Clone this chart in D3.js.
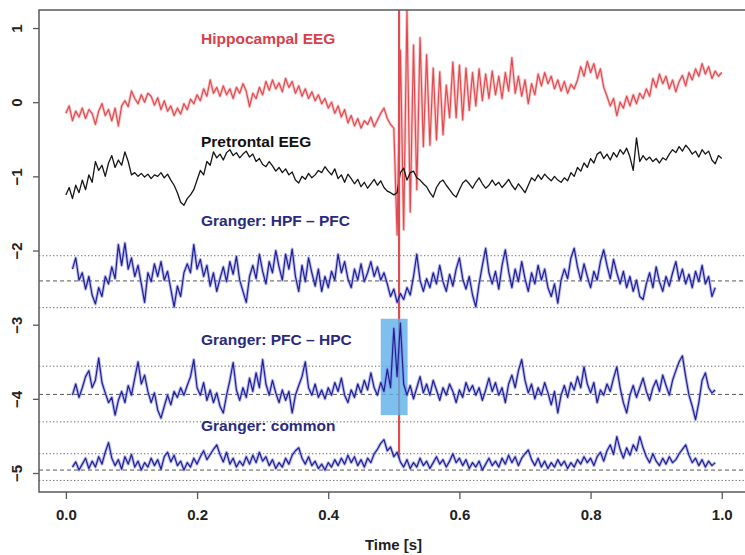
<!DOCTYPE html>
<html>
<head>
<meta charset="utf-8">
<script src="https://cdn.jsdelivr.net/npm/d3@7"></script>
<style>
  body { margin: 0; background: #ffffff; }
  svg { display: block; }
</style>
</head>
<body>
<svg id="chart" width="745" height="555"></svg>
<script>
// ---- data -------------------------------------------------------------
const yTicks = [1, 0, -1, -2, -3, -4, -5];
const xTicks = [0, 0.2, 0.4, 0.6, 0.8, 1.0];
const xTitle = "Time [s]";

// EEG traces sampled every 5 ms from t = 0 s
const eegStart = 0, eegStep = 0.005;
// Granger traces sampled every 5 ms from t = 0.01 s
const grangerStart = 0.01, grangerStep = 0.005;

const hippocampal = [
  -0.15,-0.05,-0.25,-0.12,-0.20,-0.08,-0.22,-0.10,-0.15,-0.30,
  -0.12,-0.02,-0.18,-0.10,-0.25,-0.08,-0.32,-0.05,0.02,-0.06,
  0.15,0.05,-0.02,0.10,0.00,0.12,0.08,-0.04,0.06,-0.10,
  0.02,-0.12,-0.05,-0.18,-0.08,-0.16,-0.02,-0.10,0.04,-0.02,
  0.10,0.02,0.18,0.08,0.30,0.12,0.20,0.08,0.22,0.10,
  0.18,0.05,0.20,0.12,0.25,0.15,-0.06,0.12,0.05,0.20,
  0.10,0.28,0.16,0.30,0.18,0.26,0.14,0.32,0.20,0.28,
  0.12,0.22,0.08,0.18,0.05,0.14,0.02,0.10,-0.02,0.05,
  -0.08,0.00,-0.15,-0.05,-0.20,-0.10,-0.28,-0.18,-0.32,-0.22,
  -0.35,-0.25,-0.30,-0.20,-0.33,-0.24,-0.15,-0.08,-0.22,-0.30,
  -0.35,-1.79,0.70,-1.72,1.24,-1.48,0.77,-1.18,0.87,-0.60,
  0.64,-0.58,0.46,-0.51,0.41,-0.44,0.23,-0.21,0.54,-0.21,
  0.50,-0.24,0.46,-0.11,0.40,-0.05,0.45,0.02,0.38,0.05,
  0.42,0.10,0.35,0.05,0.40,0.15,0.60,0.12,0.35,0.08,
  0.30,-0.02,0.25,0.10,0.38,0.22,0.40,0.25,0.35,0.18,
  0.30,0.15,0.28,0.12,0.24,0.18,0.30,0.48,0.35,0.55,
  0.40,0.52,0.32,0.45,0.20,0.08,-0.05,0.05,-0.18,0.00,
  -0.08,0.08,-0.05,0.10,-0.02,0.12,0.05,0.18,0.08,0.32,
  0.20,0.38,0.25,0.35,0.18,0.30,0.14,0.28,0.36,0.22,
  0.40,0.30,0.45,0.35,0.52,0.38,0.48,0.32,0.42,0.35,
  0.40
];

const prefrontal = [
  -1.25,-1.15,-1.30,-1.12,-1.22,-1.05,-1.18,-0.98,-1.08,-0.80,
  -0.92,-0.85,-1.00,-0.82,-0.72,-0.88,-0.78,-0.85,-0.67,-0.80,
  -0.98,-0.95,-1.00,-0.96,-1.01,-0.97,-1.03,-0.98,-1.00,-0.95,
  -1.02,-0.97,-1.05,-1.12,-1.22,-1.35,-1.39,-1.30,-1.25,-1.18,
  -1.05,-0.92,-0.98,-0.80,-0.85,-0.67,-0.75,-0.70,-0.78,-0.68,
  -0.64,-0.72,-0.68,-0.75,-0.70,-0.66,-0.74,-0.70,-0.80,-0.76,
  -0.84,-0.87,-0.80,-0.86,-0.93,-0.88,-0.95,-0.90,-0.98,-0.94,
  -1.05,-1.09,-1.00,-1.04,-0.96,-1.02,-0.98,-0.92,-0.95,-0.87,
  -0.93,-0.98,-0.90,-1.03,-0.98,-1.08,-0.97,-1.03,-1.10,-1.04,
  -1.14,-1.08,-1.16,-1.10,-1.04,-1.12,-1.06,-1.15,-1.20,-1.22,
  -1.25,-1.22,-0.95,-0.89,-1.05,-0.95,-0.93,-1.02,-1.05,-1.10,
  -1.14,-1.22,-1.28,-1.15,-1.08,-1.05,-1.12,-1.18,-1.24,-1.28,
  -1.18,-1.09,-1.05,-1.10,-1.16,-1.08,-1.02,-1.10,-1.16,-1.12,
  -1.05,-1.12,-1.08,-1.15,-1.10,-1.04,-1.12,-1.18,-1.10,-1.16,
  -1.22,-1.12,-1.02,-1.06,-0.98,-1.04,-0.97,-1.02,-1.06,-1.00,
  -1.05,-1.08,-1.02,-1.06,-0.95,-1.00,-0.88,-0.93,-0.82,-0.88,
  -0.76,-0.82,-0.70,-0.67,-0.76,-0.70,-0.78,-0.68,-0.74,-0.64,
  -0.70,-0.62,-0.74,-0.92,-0.48,-0.80,-0.72,-0.78,-0.74,-0.80,
  -0.76,-0.82,-0.75,-0.78,-0.70,-0.64,-0.68,-0.60,-0.66,-0.58,
  -0.63,-0.70,-0.66,-0.74,-0.64,-0.70,-0.66,-0.78,-0.83,-0.72,
  -0.76
];

const grangerHpfPfc = [
  -2.25,-2.10,-2.40,-2.30,-2.52,-2.35,-2.60,-2.72,-2.50,-2.62,
  -2.35,-2.45,-2.22,-2.38,-1.92,-2.20,-1.90,-2.25,-2.10,-2.35,
  -2.20,-2.45,-2.70,-2.30,-2.42,-2.18,-2.35,-2.15,-2.40,-2.28,
  -2.52,-2.76,-2.48,-2.62,-2.30,-2.18,-2.30,-1.92,-2.25,-2.12,
  -2.35,-2.20,-2.48,-2.30,-2.55,-2.38,-2.22,-2.42,-2.15,-2.32,
  -2.08,-2.40,-2.55,-2.70,-2.35,-2.20,-2.38,-2.05,-2.28,-2.45,
  -2.15,-2.30,-2.00,-2.22,-2.40,-2.05,-2.25,-1.98,-2.35,-2.55,
  -2.20,-2.42,-2.10,-2.30,-2.48,-2.25,-2.55,-2.35,-2.50,-2.28,
  -2.40,-2.05,-2.30,-2.15,-2.38,-2.50,-2.25,-2.40,-2.18,-2.42,
  -2.30,-2.15,-2.35,-2.22,-2.40,-2.30,-2.45,-2.62,-2.52,-2.70,
  -2.58,-2.66,-2.50,-2.60,-2.35,-2.05,-2.40,-2.55,-2.38,-2.50,
  -2.30,-2.45,-2.20,-2.42,-2.55,-2.32,-2.48,-2.25,-2.10,-2.38,
  -2.52,-2.35,-2.60,-2.76,-2.45,-2.20,-1.97,-2.30,-2.45,-2.28,
  -2.52,-2.20,-1.99,-2.28,-2.50,-2.25,-2.42,-2.15,-2.38,-2.55,
  -2.30,-2.45,-2.20,-2.40,-2.25,-2.50,-2.62,-2.45,-2.71,-2.40,
  -2.25,-2.38,-2.10,-1.97,-2.22,-2.40,-2.18,-2.35,-2.50,-2.28,
  -2.40,-2.15,-1.99,-2.20,-2.38,-2.12,-2.30,-2.45,-2.28,-2.50,
  -2.35,-2.55,-2.40,-2.62,-2.66,-2.45,-2.30,-2.50,-2.22,-2.42,
  -2.55,-2.35,-2.48,-2.30,-2.15,-2.40,-2.25,-2.45,-2.32,-2.50,
  -2.28,-2.42,-2.20,-2.45,-2.35,-2.62,-2.50
];

const grangerPfcHpc = [
  -3.95,-3.80,-3.98,-3.85,-3.70,-3.62,-3.85,-3.75,-3.45,-3.78,
  -3.92,-4.05,-3.98,-4.22,-4.02,-3.90,-4.05,-3.82,-3.95,-3.72,
  -3.50,-3.80,-3.68,-3.90,-4.05,-3.92,-4.15,-4.26,-4.10,-3.95,
  -4.08,-3.90,-3.98,-3.85,-3.95,-3.82,-3.70,-3.47,-3.85,-3.95,
  -3.78,-4.02,-3.88,-4.05,-3.92,-4.10,-4.19,-3.95,-3.75,-3.51,
  -3.88,-4.02,-3.85,-3.98,-3.72,-3.90,-3.65,-3.85,-3.47,-3.80,
  -3.95,-3.75,-3.92,-4.05,-3.88,-4.02,-3.90,-4.19,-3.95,-3.82,
  -3.70,-3.50,-3.85,-3.95,-3.80,-3.98,-3.88,-4.00,-3.85,-3.95,
  -3.78,-3.90,-3.72,-3.95,-4.05,-3.88,-3.98,-3.80,-3.92,-3.75,
  -3.88,-3.65,-3.85,-3.95,-3.78,-3.90,-3.60,-3.85,-3.05,-3.70,
  -2.98,-3.80,-3.95,-3.82,-4.00,-3.85,-3.70,-3.92,-3.80,-3.95,
  -3.75,-3.88,-4.02,-3.85,-3.95,-3.80,-3.90,-4.05,-3.88,-3.98,
  -3.78,-3.90,-3.82,-3.95,-3.85,-4.02,-3.88,-3.72,-3.90,-3.78,
  -3.95,-3.85,-4.05,-3.80,-3.68,-3.85,-3.62,-3.47,-3.75,-3.92,
  -3.80,-4.00,-3.85,-3.95,-3.78,-3.92,-4.08,-3.90,-4.19,-3.95,
  -3.82,-3.98,-3.78,-3.88,-3.70,-3.85,-3.57,-3.80,-3.92,-3.78,
  -4.05,-3.88,-3.95,-3.80,-3.90,-3.72,-3.57,-3.85,-4.05,-4.19,
  -3.95,-3.82,-3.98,-3.85,-3.72,-3.90,-4.02,-3.85,-3.75,-3.90,
  -3.68,-3.82,-3.95,-3.75,-3.62,-3.50,-3.42,-3.70,-3.95,-4.10,
  -4.28,-4.05,-3.75,-3.65,-3.85,-3.92,-3.88
];

const grangerCommon = [
  -4.92,-4.85,-4.96,-4.88,-4.80,-4.94,-4.84,-4.92,-4.78,-4.88,
  -4.72,-4.59,-4.80,-4.90,-4.82,-4.95,-4.78,-4.88,-4.75,-4.92,
  -4.84,-4.96,-4.86,-4.92,-4.80,-4.90,-4.82,-4.95,-4.78,-4.72,
  -4.85,-4.76,-4.90,-4.84,-4.96,-4.86,-4.92,-4.80,-4.88,-4.78,
  -4.70,-4.82,-4.75,-4.68,-4.62,-4.75,-4.85,-4.72,-4.88,-4.80,
  -4.92,-4.84,-4.90,-4.78,-4.88,-4.76,-4.86,-4.72,-4.84,-4.78,
  -4.90,-4.82,-4.94,-4.86,-4.92,-4.80,-4.88,-4.76,-4.70,-4.66,
  -4.80,-4.88,-4.78,-4.90,-4.84,-4.94,-4.88,-4.96,-4.86,-4.92,
  -4.82,-4.90,-4.80,-4.88,-4.76,-4.86,-4.78,-4.90,-4.82,-4.92,
  -4.80,-4.86,-4.74,-4.68,-4.60,-4.55,-4.70,-4.65,-4.78,-4.72,
  -4.85,-4.92,-4.82,-4.94,-4.86,-4.92,-4.80,-4.90,-4.84,-4.94,
  -4.86,-4.78,-4.88,-4.82,-4.92,-4.84,-4.74,-4.86,-4.80,-4.90,
  -4.82,-4.94,-4.86,-4.92,-4.84,-4.96,-4.88,-4.80,-4.90,-4.84,
  -4.92,-4.80,-4.88,-4.76,-4.86,-4.78,-4.90,-4.80,-4.74,-4.69,
  -4.82,-4.90,-4.80,-4.92,-4.84,-4.94,-4.86,-4.92,-4.82,-4.90,
  -4.84,-4.94,-4.86,-4.92,-4.82,-4.88,-4.78,-4.86,-4.80,-4.90,
  -4.78,-4.72,-4.84,-4.70,-4.62,-4.75,-4.51,-4.68,-4.80,-4.66,
  -4.76,-4.62,-4.70,-4.51,-4.66,-4.78,-4.86,-4.74,-4.84,-4.90,
  -4.80,-4.88,-4.78,-4.86,-4.82,-4.74,-4.68,-4.62,-4.76,-4.86,
  -4.80,-4.90,-4.82,-4.92,-4.84,-4.90,-4.86
];

// Granger reference levels: mean (dashed) and confidence bounds (dotted)
const grangerMeans = [-2.41, -3.94, -4.96];
const grangerBounds = [-2.07, -2.77, -3.56, -4.31, -4.74, -5.10];

// Ripple event marker and highlighted window
const eventTime = 0.508;
const eventLow = -4.80;
const windowTimes = [0.480, 0.521];
const windowLevels = [-2.92, -4.22];

const traceNames = ["Hippocampal EEG", "Pretrontal EEG", "Granger: HPF \u2013 PFC",
                    "Granger: PFC \u2013 HPC", "Granger: common"];

// ---- layout -----------------------------------------------------------
const svg = d3.select("#chart");
const plot = { left: 39, top: 10, right: 748, bottom: 492 };

const x = d3.scaleLinear().domain([-0.041, 1.04]).range([plot.left, plot.right]);
const y = d3.scaleLinear().domain([1.243, -5.256]).range([plot.top, plot.bottom]);

svg.append("defs").append("clipPath").attr("id", "plotClip")
  .append("rect")
  .attr("x", plot.left).attr("y", plot.top)
  .attr("width", plot.right - plot.left).attr("height", plot.bottom - plot.top);

const layer = svg.append("g").attr("clip-path", "url(#plotClip)");

// reference lines for the Granger traces
layer.selectAll("line.bound").data(grangerBounds).join("line")
  .attr("class", "bound")
  .attr("x1", plot.left).attr("x2", plot.right)
  .attr("y1", d => y(d)).attr("y2", d => y(d))
  .attr("stroke", "#6a6a6a").attr("stroke-width", 1)
  .attr("stroke-dasharray", "1.3,2.2");

layer.selectAll("line.mean").data(grangerMeans).join("line")
  .attr("class", "mean")
  .attr("x1", plot.left).attr("x2", plot.right)
  .attr("y1", d => y(d)).attr("y2", d => y(d))
  .attr("stroke", "#555").attr("stroke-width", 1)
  .attr("stroke-dasharray", "4,3");

function lineFor(start, step) {
  return d3.line().x((d, i) => x(start + i * step)).y(d => y(d));
}
const eegLine = lineFor(eegStart, eegStep);
const gLine = lineFor(grangerStart, grangerStep);

// EEG traces
layer.append("path").datum(hippocampal).attr("d", eegLine)
  .attr("fill", "none").attr("stroke", "#f6a0a0").attr("stroke-width", 3)
  .attr("stroke-opacity", 0.6).attr("stroke-linejoin", "round");
layer.append("path").datum(hippocampal).attr("d", eegLine)
  .attr("fill", "none").attr("stroke", "#e04b52").attr("stroke-width", 1.2)
  .attr("stroke-linejoin", "round");

layer.append("path").datum(prefrontal).attr("d", eegLine)
  .attr("fill", "none").attr("stroke", "#151515").attr("stroke-width", 1.3)
  .attr("stroke-linejoin", "round");

// event marker
layer.append("line")
  .attr("x1", x(eventTime)).attr("x2", x(eventTime))
  .attr("y1", y(1.243)).attr("y2", y(eventLow))
  .attr("stroke", "#e04b52").attr("stroke-width", 2.2);

// highlighted window
layer.append("rect")
  .attr("x", x(windowTimes[0])).attr("width", x(windowTimes[1]) - x(windowTimes[0]))
  .attr("y", y(windowLevels[0])).attr("height", y(windowLevels[1]) - y(windowLevels[0]))
  .attr("fill", "#5cb0ea").attr("fill-opacity", 0.8);

// Granger traces
[grangerHpfPfc, grangerPfcHpc, grangerCommon].forEach(series => {
  layer.append("path").datum(series).attr("d", gLine)
    .attr("fill", "none").attr("stroke", "#7a7af0").attr("stroke-width", 3.2)
    .attr("stroke-opacity", 0.5).attr("stroke-linejoin", "round");
  layer.append("path").datum(series).attr("d", gLine)
    .attr("fill", "none").attr("stroke", "#20208a").attr("stroke-width", 1.2)
    .attr("stroke-linejoin", "round");
});

// trace labels
const labelSpots = [
  { t: 0.206, v: 0.78, color: "#d8404a" },
  { t: 0.206, v: -0.60, color: "#111111" },
  { t: 0.206, v: -1.67, color: "#2a2a80" },
  { t: 0.206, v: -3.27, color: "#2a2a80" },
  { t: 0.206, v: -4.44, color: "#2a2a80" }
];
svg.selectAll("text.trace").data(traceNames).join("text")
  .attr("class", "trace")
  .attr("x", (d, i) => x(labelSpots[i].t))
  .attr("y", (d, i) => y(labelSpots[i].v))
  .attr("fill", (d, i) => labelSpots[i].color)
  .attr("font-family", "Liberation Sans, Arial, sans-serif")
  .attr("font-weight", "bold").attr("font-size", "15.5px")
  .text(d => d);

// frame
const frameColor = "#5a5a5a";
svg.append("rect")
  .attr("x", plot.left).attr("y", plot.top)
  .attr("width", plot.right - plot.left).attr("height", plot.bottom - plot.top)
  .attr("fill", "none").attr("stroke", frameColor).attr("stroke-width", 1.5);

// axes
const fmtY = d3.format("d");
const yAxis = svg.append("g").attr("transform", `translate(${plot.left},0)`)
  .call(d3.axisLeft(y).tickValues(yTicks).tickFormat(fmtY).tickSize(6).tickSizeOuter(0));
yAxis.select(".domain").remove();
yAxis.selectAll(".tick line").attr("stroke", frameColor).attr("stroke-width", 1.3);
yAxis.selectAll(".tick text")
  .attr("x", null).attr("dy", null)
  .attr("transform", "translate(-17,0) rotate(-90)")
  .attr("text-anchor", "middle")
  .attr("fill", "#222")
  .attr("font-family", "Liberation Sans, Arial, sans-serif")
  .attr("font-weight", "bold").attr("font-size", "15px");

const xAxis = svg.append("g").attr("transform", `translate(0,${plot.bottom})`)
  .call(d3.axisBottom(x).tickValues(xTicks).tickFormat(d3.format(".1f")).tickSize(7).tickSizeOuter(0));
xAxis.select(".domain").remove();
xAxis.selectAll(".tick line").attr("stroke", frameColor).attr("stroke-width", 1.3);
xAxis.selectAll(".tick text")
  .attr("y", 28).attr("dy", null)
  .attr("fill", "#222")
  .attr("font-family", "Liberation Sans, Arial, sans-serif")
  .attr("font-weight", "bold").attr("font-size", "15px");

svg.append("text")
  .attr("x", (plot.left + plot.right) / 2).attr("y", 550)
  .attr("text-anchor", "middle")
  .attr("fill", "#222")
  .attr("font-family", "Liberation Sans, Arial, sans-serif")
  .attr("font-weight", "bold").attr("font-size", "15px")
  .text(xTitle);
</script>
</body>
</html>
